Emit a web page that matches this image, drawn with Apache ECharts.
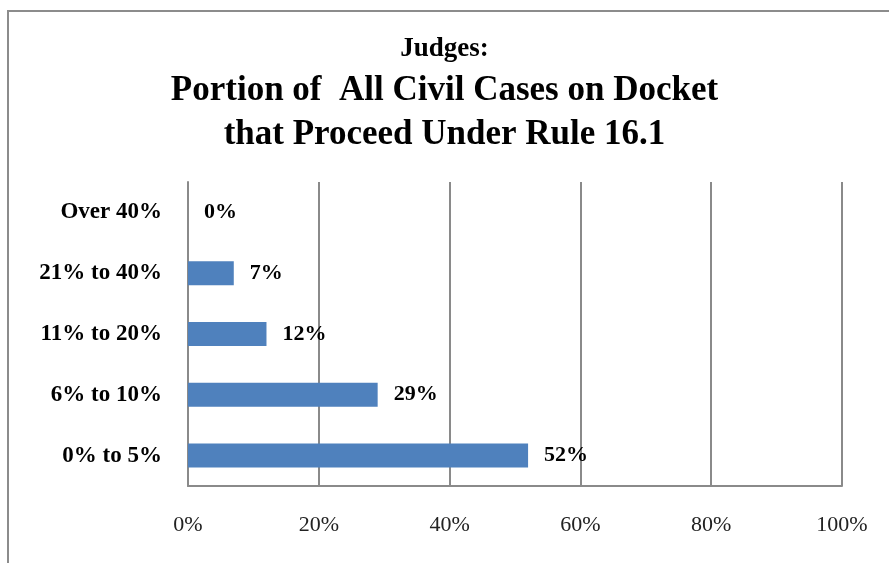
<!DOCTYPE html>
<html>
<head>
<meta charset="utf-8">
<script src="https://cdn.jsdelivr.net/npm/echarts@6/dist/echarts.min.js"></script>
<style>
  html, body { margin: 0; padding: 0; background: #fff; }
  #chart { width: 889px; height: 563px; }
</style>
</head>
<body>
<div id="chart"></div>
<script>
// bottom to top
var categories = ['0% to 5%', '6% to 10%', '11% to 20%', '21% to 40%', 'Over 40%']
var values = [52, 29, 12, 7, 0]
var tickLabels = ['0%', '20%', '40%', '60%', '80%', '100%']

var serif = '"Liberation Serif", "Times New Roman", serif'
var gridColor = '#8a8a8a'

var chart = echarts.init(document.getElementById('chart'))
chart.setOption({
  backgroundColor: '#fff',
  animation: false,
  title: {
    left: 'center',
    top: 24,
    text: '{a|Judges:}\n{b|Portion of  All Civil Cases on Docket}\n{b|that Proceed Under Rule 16.1}',
    textStyle: {
      rich: {
        a: { fontFamily: serif, fontSize: 27, fontWeight: 'bold', color: '#000', lineHeight: 40 },
        b: { fontFamily: serif, fontSize: 35, fontWeight: 'bold', color: '#000', lineHeight: 44 }
      }
    }
  },
  graphic: [{
    type: 'rect',
    shape: { x: 8, y: 11, width: 900, height: 600 },
    style: { fill: 'none', stroke: '#8c8c8c', lineWidth: 2 },
    silent: true
  }],
  grid: { left: 188, right: 47, top: 182, bottom: 77 },
  xAxis: {
    type: 'value',
    min: 0,
    max: 100,
    interval: 20,
    axisLine: { show: true, lineStyle: { color: gridColor, width: 2 } },
    axisTick: { show: false },
    splitLine: { show: true, lineStyle: { color: gridColor, width: 2 } },
    axisLabel: {
      margin: 28,
      fontFamily: serif,
      fontSize: 22,
      color: '#222',
      formatter: function (v) { return tickLabels[v / 20] }
    }
  },
  yAxis: {
    type: 'category',
    data: categories,
    axisLine: { show: true, lineStyle: { color: gridColor, width: 2 } },
    axisTick: { show: false },
    axisLabel: {
      margin: 26,
      fontFamily: serif,
      fontSize: 23,
      fontWeight: 'bold',
      color: '#000'
    }
  },
  series: [{
    type: 'bar',
    data: values,
    barWidth: 24,
    itemStyle: { color: '#4F81BD' },
    label: {
      show: true,
      position: 'right',
      distance: 16,
      fontFamily: serif,
      fontSize: 22,
      fontWeight: 'bold',
      color: '#000',
      formatter: '{c}%'
    }
  }]
})
</script>
</body>
</html>
